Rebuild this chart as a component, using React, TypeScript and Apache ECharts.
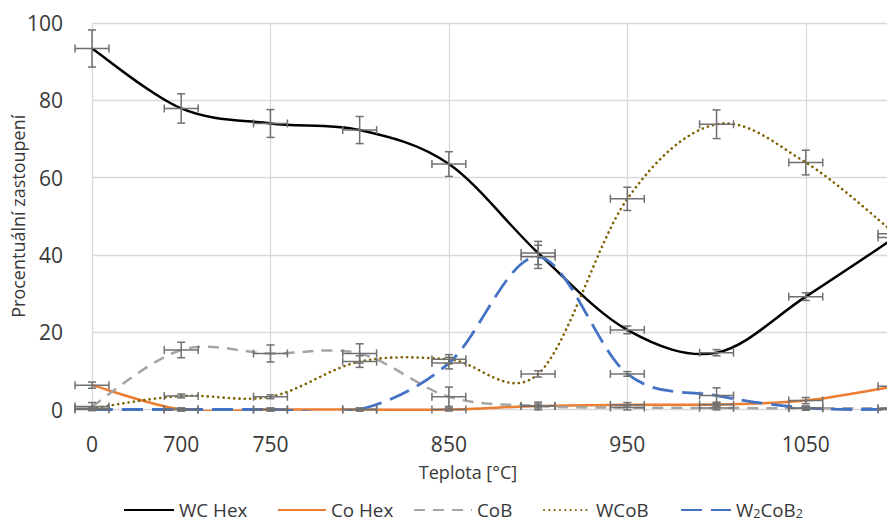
import React, { useEffect, useRef } from "react";
import * as echarts from "echarts";

const categories = ["0", "700", "750", "800", "850", "900", "950", "1000", "1050", "1100"];
const shownLabels = [0, 1, 2, 4, 6, 8];

const wcHex = [93.4, 77.9, 74.0, 72.3, 63.5, 40.5, 20.6, 14.7, 29.2, 44.5];
const coHex = [6.3, 0, 0, 0, 0, 0.9, 1.2, 1.3, 2.3, 6.0];
const coB = [0.8, 15.4, 14.5, 14.5, 3.3, 0.9, 0.5, 0.4, 0.3, 0.3];
const wCoB = [0.3, 3.5, 3.3, 12.4, 13.0, 9.2, 54.5, 73.8, 63.9, 45.5];
const w2CoB2 = [0, 0, 0, 0, 12, 39.5, 9.2, 3.6, 0.4, 0];

const wcHexErr = [4.8, 3.8, 3.6, 3.5, 3.2, 3.0, 1.0, 0.8, 1.0, 1.5];
const coHexErr = [0.8, 0.4, 0.4, 0.4, 0.4, 0.5, 0.6, 0.6, 0.8, 0.8];
const coBErr = [1.0, 2.0, 2.2, 2.5, 2.5, 1.0, 0.6, 0.5, 0.5, 0.5];
const wCoBErr = [0.4, 0.5, 0.5, 1.5, 1.2, 0.8, 3.0, 3.7, 3.2, 2.5];
const w2CoB2Err = [0.3, 0.3, 0.3, 0.3, 1.5, 3.0, 0.6, 2.0, 0.5, 0.3];

const xErrFraction = 0.19;

const FONT = "Open Sans";
const TEXT = "#383838";
const ERR = "#707070";

const styles: Record<string, any> = {
  "WC Hex": { color: "#000000", width: 2.5 },
  "Co Hex": { color: "#ed7d31", width: 2.5 },
  CoB: { color: "#a5a5a5", width: 2.5, type: [11, 8] },
  WCoB: { color: "#7f6000", width: 2.6, type: [0.1, 5.2], cap: "round" },
  W2CoB2: { color: "#4472c4", width: 2.8, type: [21, 9] },
};

const legendLayout = [
  { name: "WC Hex", left: 123, w: 50 },
  { name: "Co Hex", left: 277, w: 48 },
  { name: "CoB", left: 413, w: 58 },
  { name: "WCoB", left: 543, w: 47 },
  { name: "W2CoB2", left: 680, w: 50 },
];

function curveSeries(vals: number[], ls: any) {
  return {
    type: "custom",
    silent: true,
    z: 3,
    encode: { x: 0, y: 1 },
    data: vals.map((v, i) => [i, v]),
    renderItem: (params: any, api: any) => {
      if (params.dataIndex !== 0) return null;
      const pts = vals.map((v, i) => api.coord([i, v]));
      const n = pts.length;
      let d = `M${pts[0][0]},${pts[0][1]}`;
      for (let i = 0; i < n - 1; i++) {
        const p0 = pts[Math.max(i - 1, 0)];
        const p1 = pts[i];
        const p2 = pts[i + 1];
        const p3 = pts[Math.min(i + 2, n - 1)];
        const c1x = p1[0] + (p2[0] - p0[0]) / 6;
        const c1y = p1[1] + (p2[1] - p0[1]) / 6;
        const c2x = p2[0] - (p3[0] - p1[0]) / 6;
        const c2y = p2[1] - (p3[1] - p1[1]) / 6;
        d += ` C${c1x},${c1y} ${c2x},${c2y} ${p2[0]},${p2[1]}`;
      }
      const cs = params.coordSys;
      return {
        type: "path",
        shape: { pathData: d },
        style: {
          stroke: ls.color,
          lineWidth: ls.width,
          lineDash: ls.type || null,
          lineCap: ls.cap || "butt",
          fill: "none",
        },
        clipPath: {
          type: "rect",
          shape: { x: cs.x - 2, y: cs.y - 2, width: cs.width + 4, height: cs.height + 3.5 },
        },
      };
    },
  };
}

function errorSeries(vals: number[], errs: number[]) {
  return {
    type: "custom",
    silent: true,
    clip: false,
    z: 5,
    encode: { x: 0, y: 1 },
    data: vals.map((v, i) => [i, v, errs[i]]),
    renderItem: (params: any, api: any) => {
      const x = api.value(0);
      const y = api.value(1);
      const e = api.value(2);
      const c = api.coord([x, y]);
      const top = api.coord([x, y + e]);
      const bot = api.coord([x, y - e]);
      const hw = api.size([1, 0])[0] * xErrFraction;
      const cap = 4;
      const style = { stroke: ERR, lineWidth: 1.5 };
      const ln = (x1: number, y1: number, x2: number, y2: number) => ({
        type: "line",
        shape: { x1, y1, x2, y2 },
        style,
      });
      return {
        type: "group",
        children: [
          ln(c[0], top[1], c[0], bot[1]),
          ln(c[0] - cap, top[1], c[0] + cap, top[1]),
          ln(c[0] - cap, bot[1], c[0] + cap, bot[1]),
          ln(c[0] - hw, c[1], c[0] + hw, c[1]),
          ln(c[0] - hw, c[1] - cap, c[0] - hw, c[1] + cap),
          ln(c[0] + hw, c[1] - cap, c[0] + hw, c[1] + cap),
        ],
      };
    },
  };
}

function legendSeries(name: string) {
  return {
    name,
    type: "line",
    data: [],
    symbol: "none",
    showSymbol: false,
    lineStyle: styles[name],
    itemStyle: { color: styles[name].color },
  };
}

export default function App() {
  const ref = useRef<HTMLDivElement>(null);
  useEffect(() => {
    if (!ref.current) return;
    const chart = echarts.init(ref.current, undefined, { renderer: "svg" });
    const option: any = {
      animation: false,
      textStyle: { fontFamily: FONT },
      grid: { left: 92, top: 23, width: 803, height: 386.5, containLabel: false, outerBoundsMode: "none" },
      xAxis: {
        type: "category",
        data: categories,
        boundaryGap: false,
        axisLine: { show: false },
        axisTick: { show: false },
        axisLabel: {
          interval: (i: number) => shownLabels.includes(i),
          margin: 24,
          fontSize: 21,
          fontFamily: FONT,
          color: TEXT,
          hideOverlap: false,
        },
        splitLine: {
          show: true,
          interval: (i: number) => i % 2 === 0,
          lineStyle: { color: "#d9d9d9", width: 1.3 },
        },
      },
      yAxis: {
        type: "value",
        min: 0,
        max: 100,
        interval: 20,
        axisLine: { show: false },
        axisTick: { show: false },
        axisLabel: { margin: 29, fontSize: 21, fontFamily: FONT, color: TEXT },
        splitLine: { lineStyle: { color: "#d9d9d9", width: 1.3 } },
        name: "Procentuální zastoupení",
        nameLocation: "middle",
        nameGap: 65,
        nameMoveOverlap: false,
        nameTextStyle: { fontSize: 18, fontFamily: FONT, color: TEXT },
      },
      legend: legendLayout.map((l) => ({
        data: [l.name],
        left: l.left,
        top: 500,
        padding: 0,
        itemWidth: l.w,
        itemHeight: 14,
        itemStyle: { opacity: 0 },
        textStyle: {
          fontSize: 18.8,
          lineHeight: 20,
          fontFamily: FONT,
          color: TEXT,
          rich: {
            sub: { fontSize: 12.5, fontFamily: FONT, color: TEXT, verticalAlign: "bottom", lineHeight: 8 },
          },
        },
        formatter: (n: string) => (n === "W2CoB2" ? "W{sub|2}CoB{sub|2}" : n),
      })),
      graphic: [
        {
          type: "text",
          x: 468,
          y: 472,
          style: {
            text: "Teplota [°C]",
            fontSize: 18,
            fontFamily: FONT,
            fill: TEXT,
            align: "center",
            verticalAlign: "middle",
          },
        },
      ],
      series: [
        legendSeries("WC Hex"),
        legendSeries("Co Hex"),
        legendSeries("CoB"),
        legendSeries("WCoB"),
        legendSeries("W2CoB2"),
        curveSeries(wcHex, styles["WC Hex"]),
        curveSeries(coHex, styles["Co Hex"]),
        curveSeries(coB, styles["CoB"]),
        curveSeries(wCoB, styles["WCoB"]),
        curveSeries(w2CoB2, styles["W2CoB2"]),
        errorSeries(wcHex, wcHexErr),
        errorSeries(coHex, coHexErr),
        errorSeries(coB, coBErr),
        errorSeries(wCoB, wCoBErr),
        errorSeries(w2CoB2, w2CoB2Err),
      ],
    };
    chart.setOption(option);
    return () => chart.dispose();
  }, []);
  return <div ref={ref} style={{ width: 887, height: 523, position: "absolute", left: 0, top: 0 }} />;
}
